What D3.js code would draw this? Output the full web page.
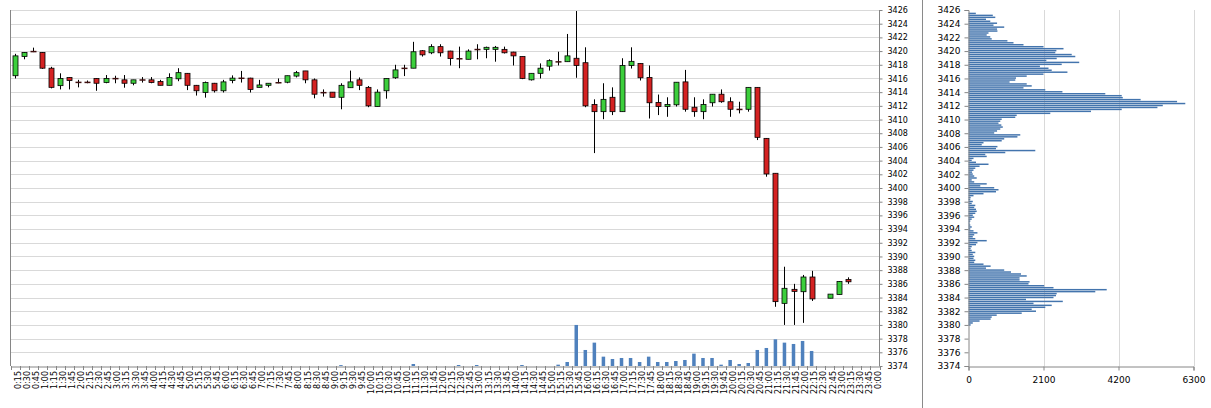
<!DOCTYPE html>
<html><head><meta charset="utf-8">
<script src="https://cdn.jsdelivr.net/npm/d3@7/dist/d3.min.js"></script>
<style>
body{margin:0;background:#fff}
svg{display:block}
text{font-family:"DejaVu Sans",Verdana,sans-serif;fill:#000}
</style>
</head><body>
<svg id="c" width="1211" height="408"></svg>
<script>
const times = ["0:15","0:30","0:45","1:00","1:15","1:30","1:45","2:00","2:15","2:30","2:45","3:00","3:15","3:30","3:45","4:00",
"4:15","4:30","4:45","5:00","5:15","5:30","5:45","6:00","6:15","6:30","6:45","7:00","7:15","7:30","7:45","8:00",
"8:15","8:30","8:45","9:00","9:15","9:30","9:45","10:00","10:15","10:30","10:45","11:00","11:15","11:30","11:45","12:00",
"12:15","12:30","12:45","13:00","13:15","13:30","13:45","14:00","14:15","14:30","14:45","15:00","15:15","15:30","15:45","16:00",
"16:15","16:30","16:45","17:00","17:15","17:30","17:45","18:00","18:15","18:30","18:45","19:00","19:15","19:30","19:45","20:00",
"20:15","20:30","20:45","21:00","21:15","21:30","21:45","22:00","22:15","22:30","22:45","23:00","23:15","23:30","23:45","0:00"];

const opens = [3416.4,3419.2,3419.95,3419.8,3417.5,3414.95,3416.15,3415.45,3415.45,3416.0,
3415.4,3416.0,3415.8,3415.3,3415.8,3415.8,3415.55,3415.0,3415.95,3416.75,
3415.0,3413.95,3415.3,3414.2,3415.7,3416.05,3416.05,3414.7,3415.0,3415.4,
3415.45,3416.35,3417.1,3415.8,3413.95,3414.0,3413.25,3414.65,3415.8,3414.7,
3411.9,3414.2,3416.1,3417.5,3417.5,3420.05,3419.75,3420.65,3420.0,3418.9,
3418.8,3420.25,3420.25,3420.25,3420.25,3419.85,3419.2,3415.8,3416.75,3417.8,
3418.45,3418.45,3418.95,3418.3,3412.2,3411.15,3413.25,3411.15,3417.9,3418.2,
3416.15,3412.5,3411.9,3412.15,3415.5,3411.8,3411.15,3412.45,3413.7,3412.6,
3411.5,3411.5,3414.7,3407.25,3402.15,3383.15,3385.2,3384.85,3387.0,null,
3383.9,3384.45,3386.65,null,null,null];

const highs = [3419.6,3419.85,3420.5,3419.85,3417.7,3416.75,3416.2,3415.8,3415.7,3416.05,
3416.5,3416.4,3416.5,3415.8,3416.2,3416.2,3415.8,3416.75,3417.5,3416.8,
3415.05,3415.55,3415.35,3415.8,3416.45,3417.1,3416.1,3415.8,3415.3,3416.0,
3416.4,3417.1,3417.1,3416.0,3414.4,3414.0,3415.3,3417.15,3416.15,3414.9,
3414.4,3416.0,3418.0,3418.0,3421.35,3420.15,3421.0,3421.0,3420.05,3420.65,
3420.25,3421.0,3420.65,3420.75,3420.65,3419.9,3419.2,3416.75,3418.2,3418.8,
3419.9,3422.5,3425.85,3420.55,3412.95,3415.3,3414.7,3418.95,3420.55,3418.2,
3417.9,3413.65,3413.25,3415.45,3417.25,3413.25,3412.95,3413.7,3414.4,3413.25,
3412.6,3414.7,3414.7,3407.3,3402.15,3388.5,3386.0,3387.3,3387.9,null,
3384.5,3386.4,3386.95,null,null,null];

const lows = [3416.0,3418.8,3419.85,3417.4,3414.55,3414.4,3414.4,3414.7,3415.3,3414.2,
3415.3,3415.3,3414.65,3415.0,3415.4,3415.3,3415.0,3415.0,3415.6,3414.3,
3413.5,3413.2,3413.95,3413.95,3415.3,3415.4,3413.95,3414.7,3414.7,3415.3,
3415.3,3416.15,3415.3,3413.1,3413.35,3413.25,3411.5,3414.65,3414.3,3411.8,
3411.9,3413.05,3415.95,3416.35,3417.5,3419.2,3419.55,3419.2,3417.9,3417.5,
3418.8,3418.8,3418.95,3418.45,3419.65,3417.9,3415.9,3415.7,3416.0,3417.15,
3417.9,3418.45,3416.1,3411.8,3405.1,3410.05,3410.65,3411.15,3417.45,3415.7,
3410.15,3410.65,3410.4,3411.9,3411.15,3410.4,3410.05,3411.9,3412.45,3410.4,
3410.9,3411.15,3407.0,3401.65,3382.65,3380.0,3380.0,3380.3,3383.5,null,
3383.9,3384.45,3386.0,null,null,null];

const closes = [3419.3,3419.8,3419.9,3417.5,3414.7,3416.0,3415.7,3415.4,3415.4,3415.3,
3416.0,3415.95,3415.3,3415.8,3415.75,3415.4,3415.0,3416.15,3416.85,3415.0,
3414.2,3415.4,3414.2,3415.5,3416.05,3416.0,3414.4,3415.05,3415.3,3415.35,
3416.4,3416.85,3415.8,3413.7,3413.9,3413.25,3415.0,3415.5,3415.0,3412.0,
3414.0,3416.0,3417.25,3417.45,3419.9,3419.45,3420.65,3419.75,3418.9,3418.85,
3420.0,3420.2,3420.55,3420.55,3419.75,3419.3,3416.0,3416.75,3417.5,3418.6,
3418.4,3419.3,3417.9,3412.0,3411.15,3412.95,3411.15,3417.9,3418.5,3416.1,
3412.45,3411.9,3412.2,3415.45,3411.5,3411.15,3412.2,3413.7,3412.6,3411.5,
3411.45,3414.7,3407.4,3402.05,3383.4,3385.35,3384.9,3387.0,3383.8,null,
3384.5,3386.35,3386.3,null,null,null];

const volumes = [0,0,0,0,0,0,0,0,0,0,
0,0,0,0,0,0,0,0,0,0,
0,0,0,0,0,0,0,0,0,0,
0,0,0,0,0,0,400,0,0,0,
0,0,0,0,900,0,0,0,0,450,
0,450,0,0,0,0,450,0,0,0,
600,1800,18450,7200,10500,4200,3150,3600,3600,1800,
4200,1800,1800,2250,2700,5550,3600,3600,600,2700,
900,1350,7200,8100,12000,10500,9900,11250,6750,0,
0,0,0,0,0,0];

const priceTicks = [3374,3376,3378,3380,3382,3384,3386,3388,3390,3392,3394,3396,3398,3400,
3402,3404,3406,3408,3410,3412,3414,3416,3418,3420,3422,3424,3426];

const profileTicks = [0,2100,4200,6300];
const profileHigh = 3425.5, profileLow = 3380.0;
const profileVolumes = [205,680,750,490,610,800,700,1000,800,810,560,510,610,650,1090,1260,1540,2100,2660,2460,
2430,2890,2990,2470,2180,3100,2610,2000,2240,2330,2770,2100,1630,1330,1310,1150,1630,1770,1540,2150,
2630,3830,4290,4320,4820,5840,6070,5440,5290,4290,3430,2290,1350,1310,930,890,840,920,960,890,
800,720,
1450,1370,1000,930,420,370,810,770,1870,1030,470,510,140,90,210,560,310,190,140,100,
120,160,230,90,160,510,330,720,840,770,420,140,60,50,120,90,190,160,210,230,
190,120,160,90,50,30,50,90,50,140,250,160,120,190,510,250,210,90,60,90,
190,120,160,140,190,160,
420,620,490,1000,1190,1470,1630,1430,1430,1710,1680,2120,2380,3870,3550,2470,2450,2380,1610,2640,
1820,2330,2150,1770,1890,1490,790,650,620,310,120,60];

const svg = d3.select("#c");
const GRID = "#d9d9d9", AXIS = "#868686";
const UP = "#3ccf3c", DOWN = "#d42222", VOL = "#4f81bd", PROF = "#4374ad";

const plotL = 10.5, plotR = 879.5, plotT = 10, plotB = 366;
const x = d3.scaleBand().domain(times).range([plotL, plotR]);
const y = d3.scaleLinear().domain([3374, 3426]).range([plotB, plotT]);
const yv = d3.scaleLinear().domain([0, 160000]).range([plotB, plotT]);
const cx = t => x(t) + x.bandwidth() / 2;

// gridlines
svg.append("g").selectAll("line").data(priceTicks.filter(d => d > 3374)).join("line")
  .attr("x1", plotL).attr("x2", plotR)
  .attr("y1", d => Math.round(y(d)) + 0.5).attr("y2", d => Math.round(y(d)) + 0.5)
  .attr("stroke", GRID);

// volume bars
svg.append("g").selectAll("rect").data(times.map((t, i) => ({t, v: volumes[i]})).filter(d => d.v > 0)).join("rect")
  .attr("x", d => cx(d.t) - 1.75).attr("width", 3.5)
  .attr("y", d => yv(d.v)).attr("height", d => plotB - yv(d.v))
  .attr("fill", VOL);

// axes lines
svg.append("line").attr("x1", plotL).attr("x2", plotL).attr("y1", plotT).attr("y2", plotB).attr("stroke", AXIS);
svg.append("line").attr("x1", plotR).attr("x2", plotR).attr("y1", plotT).attr("y2", plotB).attr("stroke", AXIS);

// bottom axis
const xAxis = d3.axisBottom(x).tickSize(0).tickFormat("");
const gx = svg.append("g").attr("transform", `translate(0,${plotB + 0.5})`).call(xAxis);
gx.select(".domain").attr("stroke", AXIS);
svg.append("g").selectAll("line").data(times.concat(["__end"])).join("line")
  .attr("x1", (d, i) => Math.round(plotL + i * x.step()) + 0.5)
  .attr("x2", (d, i) => Math.round(plotL + i * x.step()) + 0.5)
  .attr("y1", plotB).attr("y2", plotB + 4).attr("stroke", AXIS);
svg.append("g").selectAll("text").data(times).join("text")
  .attr("transform", d => `translate(${cx(d) + 3},371) rotate(-90)`)
  .attr("text-anchor", "end").attr("dy", "0.35em")
  .attr("font-size", "8px").text(d => d);

// right axis
const yAxis = d3.axisRight(y).tickValues(priceTicks).tickSize(3).tickFormat(d3.format("d"));
const gy = svg.append("g").attr("transform", `translate(${plotR},0)`).call(yAxis);
gy.select(".domain").remove();
gy.selectAll(".tick line").attr("stroke", AXIS);
gy.selectAll(".tick text").attr("x", 8).attr("font-size", "8px").attr("font-family", '"DejaVu Sans",Verdana,sans-serif').attr("fill", "#000");

// candles
const candles = times.map((t, i) => ({t, o: opens[i], h: highs[i], l: lows[i], c: closes[i]})).filter(d => d.o != null);
const gc = svg.append("g");
candles.forEach(d => {
  const xc = Math.round(cx(d.t)) + 0.5;
  gc.append("line").attr("x1", xc).attr("x2", xc).attr("y1", y(d.h)).attr("y2", y(d.l))
    .attr("stroke", "#000").attr("stroke-width", 1);
  const yTop = y(Math.max(d.o, d.c)), yBot = y(Math.min(d.o, d.c));
  if (yBot - yTop < 1) {
    gc.append("line").attr("x1", xc - 3).attr("x2", xc + 3)
      .attr("y1", (yTop + yBot) / 2).attr("y2", (yTop + yBot) / 2)
      .attr("stroke", d.c >= d.o ? "#204020" : "#401010").attr("stroke-width", 1.5);
  } else {
    gc.append("rect").attr("x", xc - 2.5).attr("width", 5)
      .attr("y", yTop).attr("height", yBot - yTop)
      .attr("fill", d.c >= d.o ? UP : DOWN).attr("stroke", "#000").attr("stroke-width", 0.8);
  }
});

// separator of right panel
svg.append("line").attr("x1", 922.5).attr("x2", 922.5).attr("y1", 0).attr("y2", 408).attr("stroke", "#8a8a8a");

// profile panel
const xp = d3.scaleLinear().domain([0, 6300]).range([968.5, 1193.5]);
svg.append("g").selectAll("line").data(profileTicks.slice(1)).join("line")
  .attr("x1", d => Math.round(xp(d)) + 0.5).attr("x2", d => Math.round(xp(d)) + 0.5)
  .attr("y1", plotT).attr("y2", plotB).attr("stroke", GRID);

const n = profileVolumes.length;
const half = (profileHigh - profileLow) / (n - 1) / 2;
const yp = d3.scaleBand().domain(d3.range(n)).range([y(profileHigh + half), y(profileLow - half)]).paddingInner(0.25).paddingOuter(0.12);
svg.append("g").selectAll("rect").data(profileVolumes).join("rect")
  .attr("x", xp(0)).attr("width", d => xp(d) - xp(0))
  .attr("y", (d, i) => yp(i)).attr("height", yp.bandwidth())
  .attr("fill", PROF);

const gpy = svg.append("g").attr("transform", "translate(968.5,0)")
  .call(d3.axisLeft(y).tickValues(priceTicks).tickSize(4).tickFormat(d3.format("d")));
gpy.select(".domain").attr("stroke", AXIS);
gpy.selectAll(".tick line").attr("stroke", AXIS);
gpy.selectAll(".tick text").attr("x", -8).attr("font-size", "9px").attr("font-family", '"DejaVu Sans",Verdana,sans-serif').attr("fill", "#000");

const gpx = svg.append("g").attr("transform", `translate(0,${plotB + 0.5})`)
  .call(d3.axisBottom(xp).tickValues(profileTicks).tickSize(4).tickFormat(d3.format("d")));
gpx.select(".domain").attr("stroke", AXIS);
gpx.selectAll(".tick line").attr("stroke", AXIS);
gpx.selectAll(".tick text").attr("y", 10).attr("font-size", "9px").attr("font-family", '"DejaVu Sans",Verdana,sans-serif').attr("fill", "#000");
</script>
</body></html>
